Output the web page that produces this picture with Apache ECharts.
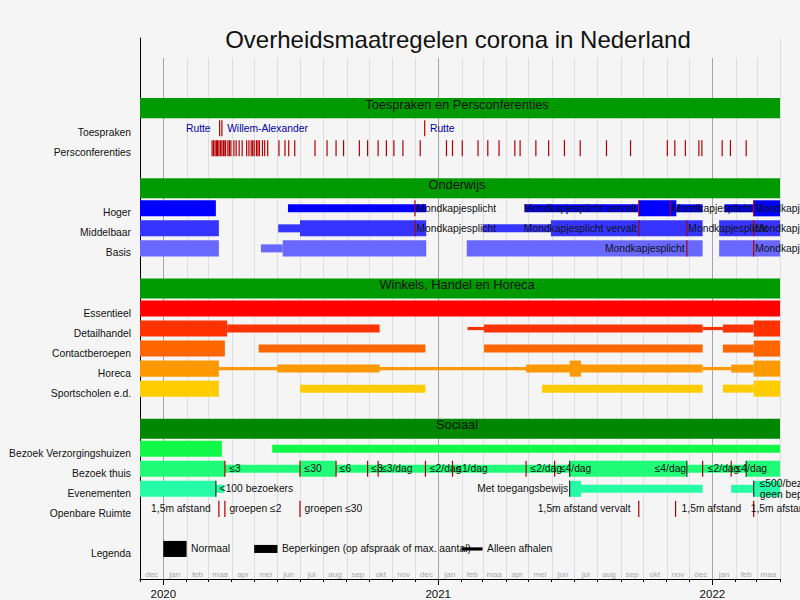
<!DOCTYPE html>
<html><head><meta charset="utf-8">
<script src="https://cdn.jsdelivr.net/npm/echarts@6/dist/echarts.min.js"></script>
<style>html,body{margin:0;padding:0;background:#f5f5f5}#c{width:800px;height:600px}</style>
</head><body><div id="c"></div><script>
// ---------- data ----------
const rows = ['_0','_1','_2','Toespraken en Persconferenties','Toespraken','Persconferenties','_3',
  'Onderwijs','Hoger','Middelbaar','Basis','_4',
  'Winkels, Handel en Horeca','Essentieel','Detailhandel','Contactberoepen','Horeca','Sportscholen e.d.','_5',
  'Sociaal','Bezoek Verzorgingshuizen','Bezoek thuis','Evenementen','Openbare Ruimte','_6','Legenda','_7'];
const headers = ['Toespraken en Persconferenties','Onderwijs','Winkels, Handel en Horeca','Sociaal'];
const monthLabels = ['dec','jan','feb','maa','apr','mei','jun','jul','aug','sep','okt','nov',
  'dec','jan','feb','maa','apr','mei','jun','jul','aug','sep','okt','nov','dec','jan','feb','maa'];
const yearLabels = ['2020','2021','2022'];
const axisStart = '2019-12-01', axisEnd = '2022-04-01';

const periods = [
 ['Hoger','2019-12-01','2020-03-11','full'],
 ['Hoger','2020-06-15','2020-12-16','thin'],
 ['Hoger','2021-04-26','2021-09-25','thin'],
 ['Hoger','2021-09-25','2021-11-14','full'],
 ['Hoger','2021-11-14','2021-12-19','thin'],
 ['Hoger','2022-01-17','2022-02-25','thin'],
 ['Hoger','2022-02-25','2022-04-01','full'],
 ['Middelbaar','2019-12-01','2020-03-15','full'],
 ['Middelbaar','2020-06-02','2020-07-01','thin'],
 ['Middelbaar','2020-07-01','2020-12-16','full'],
 ['Middelbaar','2021-03-01','2021-05-31','thin'],
 ['Middelbaar','2021-05-31','2021-12-19','full'],
 ['Middelbaar','2022-01-10','2022-04-01','full'],
 ['Basis','2019-12-01','2020-03-15','full'],
 ['Basis','2020-05-10','2020-06-08','thin'],
 ['Basis','2020-06-08','2020-12-16','full'],
 ['Basis','2021-02-08','2021-12-19','full'],
 ['Basis','2022-01-10','2022-04-01','full'],
 ['Essentieel','2019-12-01','2022-04-01','full'],
 ['Detailhandel','2019-12-01','2020-03-26','full'],
 ['Detailhandel','2020-03-26','2020-10-15','thin'],
 ['Detailhandel','2021-02-09','2021-03-03','line'],
 ['Detailhandel','2021-03-03','2021-12-19','thin'],
 ['Detailhandel','2021-12-19','2022-01-15','line'],
 ['Detailhandel','2022-01-15','2022-02-25','thin'],
 ['Detailhandel','2022-02-25','2022-04-01','full'],
 ['Contactberoepen','2019-12-01','2020-03-23','full'],
 ['Contactberoepen','2020-05-07','2020-12-15','thin'],
 ['Contactberoepen','2021-03-03','2021-12-19','thin'],
 ['Contactberoepen','2022-01-15','2022-02-25','thin'],
 ['Contactberoepen','2022-02-25','2022-04-01','full'],
 ['Horeca','2019-12-01','2020-03-15','full'],
 ['Horeca','2020-03-15','2021-04-28','line'],
 ['Horeca','2020-06-01','2020-10-15','thin'],
 ['Horeca','2021-04-28','2021-12-19','thin'],
 ['Horeca','2021-06-25','2021-07-10','full'],
 ['Horeca','2021-12-19','2022-01-26','line'],
 ['Horeca','2022-01-26','2022-02-25','thin'],
 ['Horeca','2022-02-25','2022-04-01','full'],
 ['Sportscholen e.d.','2019-12-01','2020-03-15','full'],
 ['Sportscholen e.d.','2020-07-01','2020-12-15','thin'],
 ['Sportscholen e.d.','2021-05-19','2021-12-19','thin'],
 ['Sportscholen e.d.','2022-01-15','2022-02-25','thin'],
 ['Sportscholen e.d.','2022-02-25','2022-04-01','full'],
 ['Bezoek Verzorgingshuizen','2019-12-01','2020-03-19','full'],
 ['Bezoek Verzorgingshuizen','2020-05-25','2022-04-01','thin'],
 ['Bezoek thuis','2019-12-01','2020-03-23','full'],
 ['Bezoek thuis','2020-03-23','2020-07-01','thin'],
 ['Bezoek thuis','2020-07-01','2020-08-18','full'],
 ['Bezoek thuis','2020-08-18','2021-06-25','thin'],
 ['Bezoek thuis','2021-06-25','2021-11-28','full'],
 ['Bezoek thuis','2021-11-28','2022-02-15','thin'],
 ['Bezoek thuis','2022-02-15','2022-04-01','full'],
 ['Evenementen','2019-12-01','2020-03-11','full'],
 ['Evenementen','2020-03-11','2020-03-22','thin'],
 ['Evenementen','2021-06-25','2021-07-10','full'],
 ['Evenementen','2021-07-10','2021-12-19','thin'],
 ['Evenementen','2022-01-26','2022-02-25','thin'],
 ['Evenementen','2022-02-25','2022-04-01','full'],
 ['Legenda','2020-01-01','2020-02-01','full'],
 ['Legenda','2020-05-01','2020-06-01','thin'],
 ['Legenda','2021-02-01','2021-03-01','line']
];

const speeches = ['2020-03-16','2020-03-19','2020-12-14'];
const pressConferences = [
 '2020-03-06','2020-03-08','2020-03-10','2020-03-12','2020-03-13','2020-03-15','2020-03-17','2020-03-19','2020-03-21','2020-03-23','2020-03-24','2020-03-27','2020-03-29','2020-03-31',
 '2020-04-04','2020-04-07','2020-04-11','2020-04-15','2020-04-21','2020-04-24','2020-04-27','2020-04-29',
 '2020-05-01','2020-05-04','2020-05-06','2020-05-08','2020-05-12','2020-05-15','2020-05-19',
 '2020-06-03','2020-06-11','2020-06-16','2020-06-24','2020-07-21','2020-08-06','2020-08-18','2020-08-28',
 '2020-09-18','2020-09-29','2020-10-13','2020-10-24','2020-11-03','2020-11-15','2020-12-08',
 '2021-01-12','2021-01-20','2021-02-02','2021-02-23','2021-03-08','2021-03-23','2021-04-13','2021-04-20',
 '2021-05-11','2021-05-28','2021-06-18','2021-07-09','2021-08-13','2021-09-14','2021-11-02','2021-11-12',
 '2021-11-26','2021-12-14','2021-12-18','2022-01-14','2022-01-25','2022-02-15'
];
const markers = [
 ['Hoger','2020-12-01'],['Hoger','2021-09-25'],['Hoger','2021-11-06'],['Hoger','2022-02-25'],
 ['Middelbaar','2020-12-01'],['Middelbaar','2021-09-25'],['Middelbaar','2021-11-28'],['Middelbaar','2022-02-25'],
 ['Basis','2021-11-28'],['Basis','2022-02-25'],
 ['Bezoek thuis','2020-03-23'],['Bezoek thuis','2020-07-01'],['Bezoek thuis','2020-08-18'],['Bezoek thuis','2020-09-29'],
 ['Bezoek thuis','2020-10-13'],['Bezoek thuis','2020-12-15'],['Bezoek thuis','2021-01-20'],['Bezoek thuis','2021-04-28'],
 ['Bezoek thuis','2021-06-05'],['Bezoek thuis','2021-12-19'],['Bezoek thuis','2022-01-26'],
 ['Openbare Ruimte','2020-03-15'],['Openbare Ruimte','2020-03-23'],['Openbare Ruimte','2020-07-01'],
 ['Openbare Ruimte','2021-09-25'],['Openbare Ruimte','2021-11-13'],['Openbare Ruimte','2022-02-25']
];
const edgeMarkers = [
 ['Bezoek thuis','2021-06-25'],['Bezoek thuis','2021-11-28'],['Bezoek thuis','2022-02-15'],
 ['Evenementen','2020-03-11'],['Evenementen','2021-06-25'],['Evenementen','2022-02-25']
];
const notes = [
 ['Toespraken','2020-03-04','Rutte','right'],
 ['Toespraken','2020-03-26','Willem-Alexander','left'],
 ['Toespraken','2020-12-21','Rutte','left'],
 ['Hoger','2020-12-03','Mondkapjesplicht','left'],
 ['Hoger','2021-04-25','Mondkapjesplicht vervalt','left'],
 ['Hoger','2021-11-09','Mondkapjesplicht','left'],
 ['Hoger','2022-02-27','Mondkapjesplicht vervalt','left'],
 ['Middelbaar','2020-12-03','Mondkapjesplicht','left'],
 ['Middelbaar','2021-04-25','Mondkapjesplicht vervalt','left'],
 ['Middelbaar','2021-11-30','Mondkapjesplicht','left'],
 ['Middelbaar','2022-02-27','Mondkapjesplicht vervalt','left'],
 ['Basis','2021-11-25','Mondkapjesplicht','right'],
 ['Basis','2022-02-27','Mondkapjesplicht vervalt','left'],
 ['Bezoek thuis','2020-03-29','≤3','left'],
 ['Bezoek thuis','2020-07-07','≤30','left'],
 ['Bezoek thuis','2020-08-23','≤6','left'],
 ['Bezoek thuis','2020-10-04','≤3','left'],
 ['Bezoek thuis','2020-10-17','≤3/dag','left'],
 ['Bezoek thuis','2020-12-21','≤2/dag','left'],
 ['Bezoek thuis','2021-01-25','≤1/dag','left'],
 ['Bezoek thuis','2021-05-04','≤2/dag','left'],
 ['Bezoek thuis','2021-06-12','≤4/dag','left'],
 ['Bezoek thuis','2021-11-27','≤4/dag','right'],
 ['Bezoek thuis','2021-12-26','≤2/dag','left'],
 ['Bezoek thuis','2022-02-01','≤4/dag','left'],
 ['Evenementen','2020-03-16','<100 bezoekers','left'],
 ['Evenementen','2021-06-23','Met toegangsbewijs','right'],
 ['Evenementen','2022-03-05','≤500/bezoekers\ngeen beperkingen','left'],
 ['Openbare Ruimte','2020-03-04','1,5m afstand','right'],
 ['Openbare Ruimte','2020-03-29','groepen ≤2','left'],
 ['Openbare Ruimte','2020-07-07','groepen ≤30','left'],
 ['Openbare Ruimte','2021-09-14','1,5m afstand vervalt','right'],
 ['Openbare Ruimte','2021-11-21','1,5m afstand','left'],
 ['Openbare Ruimte','2022-02-21','1,5m afstand vervalt','left'],
 ['Legenda','2020-02-07','Normaal','left'],
 ['Legenda','2020-06-07','Beperkingen (op afspraak of max. aantal)','left'],
 ['Legenda','2021-03-07','Alleen afhalen','left']
];

// ---------- helpers / styles ----------
const T = s => { const p = s.split('-').map(Number); return Date.UTC(p[0], p[1]-1, p[2]); };
const R = n => rows.indexOf(n);
const X0 = T(axisStart), X1 = T(axisEnd);
const rowColor = {
  'Hoger':'#0000ff','Middelbaar':'#3535ff','Basis':'#6868ff',
  'Essentieel':'#ff0000','Detailhandel':'#ff3300','Contactberoepen':'#ff6600','Horeca':'#ff9900','Sportscholen e.d.':'#ffcc00',
  'Bezoek Verzorgingshuizen':'#10f848','Bezoek thuis':'#20fc78','Evenementen':'#25fca5','Legenda':'#000000'
};
function fontWidth(font){ const c=document.createElement('canvas').getContext('2d'); c.font=font; return c.measureText('Mondkapjesplicht vervalt').width; }
const wMono = fontWidth('20px monospace');
const wNar = fontWidth('20px "Liberation Sans Narrow", monospace');
const wReg = fontWidth('20px "Liberation Sans", monospace');
const NARROW = wNar !== wMono && wNar < 0.9 * wReg;
const LFONT = NARROW ? '"Liberation Sans Narrow", "Liberation Sans", sans-serif' : '"Liberation Sans", Arial, sans-serif';
const LFS = NARROW ? 12.4 : 10.3;
const RFONT = '"Liberation Sans", Arial, sans-serif';

const monthStarts = [];
for (let i = 0; i <= monthLabels.length; i++) monthStarts.push(Date.UTC(2019, 11 + i, 1));
const monthMids = monthLabels.map((_, i) => (monthStarts[i] + monthStarts[i+1]) / 2);
const midLabel = new Map(monthMids.map((v, i) => [v, monthLabels[i]]));
const yearStarts = yearLabels.map(y => Date.UTC(Number(y), 0, 1));
const yearLabel = new Map(yearStarts.map((v, i) => [v, yearLabels[i]]));

const chart = echarts.init(document.getElementById('c'), null, {renderer:'svg'});
const lastRow = rows.length - 1;

chart.setOption({
  animation:false,
  backgroundColor:'#f5f5f5',
  textStyle:{fontFamily:RFONT},
  title:{text:'Overheidsmaatregelen corona in Nederland', left:458, top:27, padding:0, textAlign:'center',
    textStyle:{fontSize:24, fontWeight:'normal', color:'#111', fontFamily:RFONT}},
  grid:{left:140, right:20, top:38, bottom:20},
  xAxis:[
    {type:'value', min:X0, max:X1, position:'bottom', offset:0, scale:true,
     axisLine:{show:true, lineStyle:{color:'#000', width:1}},
     axisTick:{show:true, customValues:monthStarts, length:3, lineStyle:{color:'#000'}},
     axisLabel:{show:true, inside:true, customValues:monthMids, margin:1, fontSize:8, color:'#a8a8a8',
       formatter:v => midLabel.get(v) || ''},
     splitLine:{show:false}},
    {type:'value', min:X0, max:X1, position:'bottom', offset:0, scale:true,
     axisLine:{show:false},
     axisTick:{show:true, customValues:yearStarts, length:6, lineStyle:{color:'#000'}},
     axisLabel:{show:true, customValues:yearStarts, margin:9, fontSize:11.5, color:'#111',
       formatter:v => yearLabel.get(v) || ''},
     splitLine:{show:false}}
  ],
  yAxis:{type:'category', data:rows, inverse:true,
    axisLine:{show:true, lineStyle:{color:'#000', width:1}},
    axisTick:{show:false}, splitLine:{show:false},
    axisLabel:{interval:0, margin:9, fontSize:LFS, fontFamily:LFONT, color:'#111',
      verticalAlign:'top', lineHeight:9,
      formatter:v => (v[0] === '_' || headers.includes(v)) ? '' : v}},
  series:[
    { // month grid lines
      type:'custom', z:1, silent:true, xAxisIndex:0, yAxisIndex:0,
      data:monthStarts.slice(1).map(t => [t, 1]), encode:{x:0, y:1},
      renderItem(params, api){
        const t = api.value(0);
        const band = api.size([0,1])[1];
        const x = Math.round(api.coord([t,1])[0]) + 0.5;
        const isEnd = t === X1;
        const yTop = isEnd ? api.coord([t,0])[1] - band/2 : api.coord([t,1])[1] - band/2;
        const yBot = api.coord([t,lastRow])[1] + band/2;
        const isYear = new Date(t).getUTCMonth() === 0;
        return {type:'line', shape:{x1:x, y1:yTop, x2:x, y2:yBot},
          style:{stroke:isYear ? '#a5a5a5' : '#dedede', lineWidth:1}};
      }
    },
    { // section header bands
      type:'custom', z:2, silent:true,
      data:headers.map(h => [X0, R(h)]), encode:{x:0, y:1},
      renderItem(params, api){
        const row = api.value(1);
        const a = api.coord([X0,row]), b = api.coord([X1,row]);
        const band = api.size([0,1])[1];
        const name = headers[params.dataIndex];
        return {type:'group', children:[
          {type:'rect', shape:{x:a[0], y:a[1]-band/2, width:b[0]-a[0], height:band},
           style:{fill:name === 'Sociaal' ? '#008600' : '#009900'}},
          {type:'text', x:(a[0]+b[0])/2 - 3, y:a[1]-4,
           style:{text:name, align:'center', verticalAlign:'middle', fontSize:12.8, fontFamily:RFONT, fill:'#111'}}
        ]};
      }
    },
    { // measure periods
      type:'custom', z:3, silent:true,
      data:periods.map(p => [T(p[1]), T(p[2]), R(p[0])]), encode:{x:[0,1], y:2},
      renderItem(params, api){
        const p = periods[params.dataIndex];
        const s = api.coord([api.value(0), api.value(2)]);
        const e = api.coord([api.value(1), api.value(2)]);
        const band = api.size([0,1])[1];
        const h = band * (p[3] === 'full' ? 0.8 : p[3] === 'thin' ? 0.4 : 0.16);
        return {type:'rect', shape:{x:s[0], y:s[1]-h/2, width:e[0]-s[0], height:h}, style:{fill:rowColor[p[0]]}};
      }
    },
    { // red event markers
      type:'custom', z:4, silent:true,
      data:[].concat(
        speeches.map(d => [T(d), R('Toespraken')]),
        pressConferences.map(d => [T(d), R('Persconferenties')]),
        markers.map(m => [T(m[1]), R(m[0])])
      ), encode:{x:0, y:1},
      renderItem(params, api){
        const c = api.coord([api.value(0), api.value(1)]);
        const band = api.size([0,1])[1];
        return {type:'line', shape:{x1:c[0], y1:c[1]-band*0.4, x2:c[0], y2:c[1]+band*0.4},
          style:{stroke:'#b00000', lineWidth:1.2}};
      }
    },
    { // dark markers at block edges
      type:'custom', z:4, silent:true,
      data:edgeMarkers.map(m => [T(m[1]), R(m[0])]), encode:{x:0, y:1},
      renderItem(params, api){
        const c = api.coord([api.value(0), api.value(1)]);
        const band = api.size([0,1])[1];
        return {type:'line', shape:{x1:c[0], y1:c[1]-band*0.4, x2:c[0], y2:c[1]+band*0.4},
          style:{stroke:'#2a2a2a', lineWidth:1.2}};
      }
    },
    { // annotations
      type:'custom', z:5, silent:true, clip:false,
      data:notes.map(n => [T(n[1]), R(n[0])]), encode:{x:0, y:1},
      renderItem(params, api){
        const n = notes[params.dataIndex];
        const c = api.coord([api.value(0), api.value(1)]);
        return {type:'text', x:c[0], y:c[1],
          style:{text:n[2], align:n[3], verticalAlign:'middle', fontSize:LFS, lineHeight:10.6, fontFamily:LFONT,
            fill:n[0] === 'Toespraken' ? '#0000aa' : '#111'}};
      }
    }
  ]
});
</script></body></html>
